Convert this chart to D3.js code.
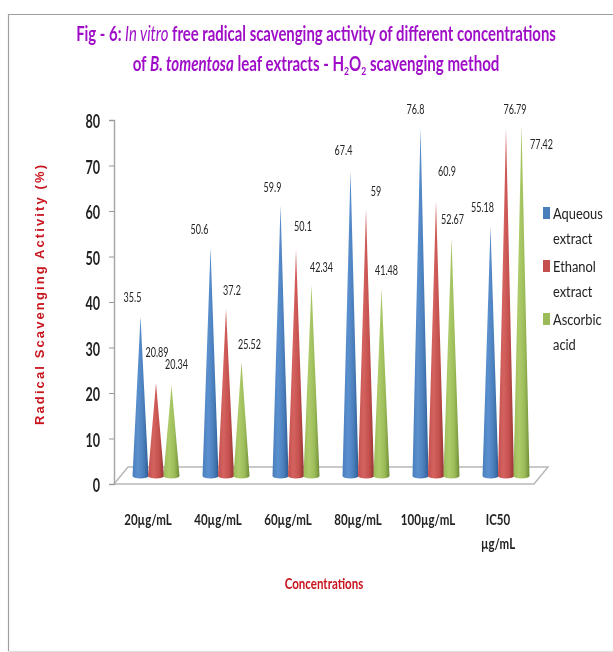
<!DOCTYPE html>
<html>
<head>
<meta charset="utf-8">
<script src="https://cdn.jsdelivr.net/npm/d3@7"></script>
<style>
  html, body { margin: 0; padding: 0; background: #fff; }
  svg { display: block; }
  text { font-family: Lato, "Open Sans", sans-serif; }
</style>
</head>
<body>
<svg width="613" height="652"></svg>
<script>
var svg = d3.select('svg');

// values
var categories = ['20µg/mL', '40µg/mL', '60µg/mL', '80µg/mL', '100µg/mL', 'IC50 µg/mL'];
var seriesNames = ['Aqueous extract', 'Ethanol extract', 'Ascorbic acid'];
var aqueous = [35.5, 50.6, 59.9, 67.4, 76.8, 55.18];
var ethanol = [20.89, 37.2, 50.1, 59, 60.9, 76.79];
var ascorbic = [20.34, 25.52, 42.34, 41.48, 52.67, 77.42];
var yTicks = [0, 10, 20, 30, 40, 50, 60, 70, 80];
var allSeries = [aqueous, ethanol, ascorbic];

// styling
var colors = ['#4a7ebb', '#c4504d', '#9bbb59'];
var darkColors = ['#2c5c94', '#923331', '#6e8c34'];
var lightColors = ['#5b90cf', '#d4625f', '#aecb6a'];

// hand placed value labels, [dx, dy] from each cone tip
var aqueousShift = [[-8, -18], [-11, -18], [-8, -17], [-7, -20], [-5, -19], [-8, -19]];
var ethanolShift = [[1, -30], [6, -18], [7, -23], [10, -18], [11, -29], [9, -19]];
var ascorbicShift = [[5, -20], [8, -17], [10, -17], [5, -18], [1, -18], [20, 19]];
var allShifts = [aqueousShift, ethanolShift, ascorbicShift];

var defs = svg.append('defs');
defs.append('filter').attr('id', 'soft')
    .append('feGaussianBlur').attr('stdDeviation', 0.5);

colors.forEach(function(c, i){
    var g = defs.append('linearGradient').attr('id', 'cone' + i);
    g.append('stop').attr('offset', '0%').attr('stop-color', c);
    g.append('stop').attr('offset', '35%').attr('stop-color', lightColors[i]);
    g.append('stop').attr('offset', '70%').attr('stop-color', c);
    g.append('stop').attr('offset', '100%').attr('stop-color', darkColors[i]);
});

// narrow a text like the Calibri of the original
function squeeze(sel, k){
    sel.each(function(){
        var len = this.getComputedTextLength();
        d3.select(this).attr('textLength', len * k).attr('lengthAdjust', 'spacingAndGlyphs');
    });
}

// scales
var y = d3.scaleLinear().domain([0, 80]).range([484, 120]);
var x0 = d3.scaleBand().domain(categories).range([121, 541]);
var x1 = d3.scaleBand().domain([0, 1, 2]).range([-23.25, 23.25]);
var coneHalf = 8;
var depth = 6; // cones stand on the floor, above the front edge

// frame
svg.append('path')
    .attr('d', 'M613,14.5H8.5V651')
    .attr('fill', 'none')
    .attr('stroke', '#a0a0a0')
    .attr('stroke-width', 1.2);
svg.append('path')
    .attr('d', 'M8.5,651.5H613')
    .attr('fill', 'none')
    .attr('stroke', '#dcdcdc');

var chart = svg.append('g').attr('filter', 'url(#soft)');

// floor
chart.append('path')
    .attr('d', 'M114,484L128,467H548L534,484Z')
    .attr('fill', '#fff')
    .attr('stroke', '#b8b8b8')
    .attr('stroke-width', 1.5);

// y axis
var yAxis = d3.axisLeft(y).tickValues(yTicks).tickSize(5).tickPadding(9);
var yG = chart.append('g').attr('transform', 'translate(114,0)').call(yAxis);
yG.select('.domain').attr('stroke', '#a8a8a8').attr('stroke-width', 1.5);
yG.selectAll('line').attr('stroke', '#999');
yG.selectAll('text')
    .attr('font-size', 18)
    .attr('fill', '#222')
    .attr('dy', '0.42em')
    .style('font-family', 'Lato')
    .style('font-weight', 'bold')
    .call(squeeze, 0.7);

// cones
var groups = chart.selectAll('.grp')
    .data(categories)
    .enter()
    .append('g')
    .attr('class', 'grp')
    .attr('transform', function(d){
        return 'translate(' + (x0(d) + x0.bandwidth() / 2) + ',0)';
    });

function coneX(s){ return x1(s) + x1.bandwidth() / 2; }
function tipY(v){ return y(v) - depth; }

allSeries.forEach(function(vals, s){
    groups.append('path')
        .attr('d', function(d, i){
            var cx = coneX(s);
            var base = y(0) - depth;
            return 'M' + (cx - coneHalf) + ',' + (base - 2)
                + 'L' + cx + ',' + tipY(vals[i])
                + 'L' + (cx + coneHalf) + ',' + (base - 2)
                + 'A' + coneHalf + ',2.5 0 0 1 ' + (cx - coneHalf) + ',' + (base - 2) + 'Z';
        })
        .attr('fill', 'url(#cone' + s + ')');
});

// value labels
allSeries.forEach(function(vals, s){
    groups.append('text')
        .attr('x', function(d, i){ return coneX(s) + allShifts[s][i][0]; })
        .attr('y', function(d, i){ return tipY(vals[i]) + allShifts[s][i][1] + 4; })
        .attr('text-anchor', 'middle')
        .attr('font-size', 12.5)
        .attr('fill', '#222')
        .text(function(d, i){ return vals[i]; })
        .call(squeeze, 0.72);
});

// x labels, the long one wraps
groups.each(function(d){
    var g = d3.select(this);
    d.split(' ').forEach(function(part, i){
        g.append('text')
            .attr('x', -8)
            .attr('y', 525 + i * 24)
            .attr('text-anchor', 'middle')
            .attr('font-size', 16)
            .attr('font-weight', 'bold')
            .attr('fill', '#222')
            .text(part)
            .call(squeeze, 0.72);
    });
});

// axis titles
chart.append('text')
    .attr('transform', 'translate(44,295) rotate(-90)')
    .attr('text-anchor', 'middle')
    .attr('font-size', 13)
    .attr('font-weight', 'bold')
    .attr('fill', '#c8141e')
    .style('font-family', '"Liberation Sans"')
    .attr('textLength', 260)
    .attr('lengthAdjust', 'spacing')
    .text('Radical Scavenging  Activity  (%)');
chart.append('text')
    .attr('x', 324).attr('y', 589)
    .attr('text-anchor', 'middle')
    .attr('font-size', 16)
    .attr('fill', '#c8141e')
    .attr('font-weight', 'bold')
    .text('Concentrations')
    .call(squeeze, 0.72);

// legend
var legend = chart.selectAll('.leg')
    .data(seriesNames)
    .enter()
    .append('g')
    .attr('class', 'leg')
    .attr('transform', function(d, i){ return 'translate(543,' + (207 + i * 53) + ')'; });
legend.append('rect')
    .attr('width', 7).attr('height', 12)
    .attr('fill', function(d, i){ return colors[i]; });
[0, 1].forEach(function(n){
    legend.append('text')
        .attr('x', 10).attr('y', 12 + n * 25)
        .attr('font-size', 15.5).attr('fill', '#222')
        .text(function(d){ return d.split(' ')[n]; })
        .call(squeeze, 0.83);
});

// title, scaled to its width in the original
function fitTitle(sel, cx, width){
    var k = width / sel.node().getBBox().width;
    sel.attr('transform', 'translate(' + cx + ',0) scale(' + k + ',1)');
}
var title = chart.append('g')
    .attr('font-size', 21)
    .attr('font-weight', 'bold')
    .attr('fill', '#a010c8')
    .attr('text-anchor', 'middle');
var line1 = title.append('text').attr('x', 0).attr('y', 41);
line1.append('tspan').text('Fig - 6: ');
line1.append('tspan').attr('font-style', 'italic').attr('font-weight', 'normal').text('In vitro');
line1.append('tspan').text(' free radical scavenging activity of different concentrations');
fitTitle(line1, 316, 480);
var line2 = title.append('text').attr('x', 0).attr('y', 71);
line2.append('tspan').text('of ');
line2.append('tspan').attr('font-style', 'italic').text('B. tomentosa');
line2.append('tspan').text(' leaf extracts - H');
line2.append('tspan').attr('font-size', 12).attr('dy', 4).text('2');
line2.append('tspan').attr('dy', -4).text('O');
line2.append('tspan').attr('font-size', 12).attr('dy', 4).text('2');
line2.append('tspan').attr('dy', -4).text(' scavenging method');
fitTitle(line2, 316, 367);
</script>
</body>
</html>
